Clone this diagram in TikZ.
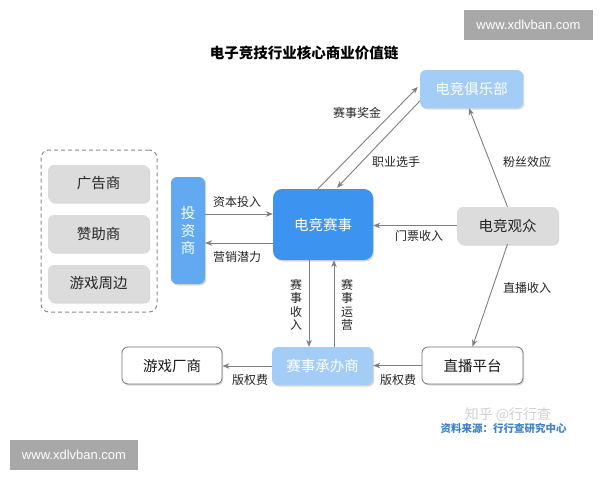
\documentclass[tikz,border=0pt]{standalone}
\usepackage{fontspec}
\setmainfont{Noto Sans CJK SC}
\newfontfamily\wmfont{Liberation Sans}
\usetikzlibrary{shadows,arrows.meta,calc}
\definecolor{evblue}{HTML}{3D93F0}
\definecolor{invblue}{HTML}{62A9F1}
\definecolor{ltblue}{HTML}{A3CDF6}
\definecolor{boxgray}{HTML}{DCDCDC}
\definecolor{arrgray}{HTML}{7F7F7F}
\definecolor{wmgray}{HTML}{A8A8A8}
\definecolor{srcblue}{HTML}{3F82C8}
\begin{document}
\begin{tikzpicture}[x=1pt,y=-1pt,
 box/.style={rounded corners=6pt, inner sep=0pt, font=\fontsize{14.5}{16}\selectfont,
   drop shadow={shadow xshift=1.2pt,shadow yshift=-1.5pt,opacity=0.3}},
 graybox/.style={box, fill=boxgray, text=black!85},
 whitebox/.style={box, fill=white, draw=black!55, line width=0.8pt, text=black!90},
 bluebox/.style={box, fill=ltblue, text=white},
 dashbox/.style={draw=black!45, dashed, dash pattern=on 4pt off 3pt, rounded corners=8pt, line width=1pt, inner sep=0pt},
 arr/.style={draw=arrgray, line width=0.9pt, -{Stealth[length=7pt,width=5.5pt]}},
 lbl/.style={font=\fontsize{12}{13}\selectfont, text=black!85, inner sep=0pt},
 vlbl/.style={lbl, align=center, font=\fontsize{12}{13.5}\selectfont},
 wm/.style={fill=wmgray, text=white, font=\wmfont\fontsize{13}{14}\selectfont, minimum width=129pt, minimum height=30pt, inner sep=0pt}
]
\fill[white] (0,0) rectangle (600,480);
\useasboundingbox (0,0) rectangle (600,480);

% title
\node[font=\bfseries\fontsize{14.5}{16}\selectfont] (title) at (304,53) {电子竞技行业核心商业价值链};

% nodes
\node[bluebox, minimum width=103pt, minimum height=38pt] (club) at (471.5,89) {电竞俱乐部};
\node[dashbox, minimum width=116pt, minimum height=162pt] (grp) at (99,231) {};
\node[graybox, minimum width=101pt, minimum height=37pt] (ad) at (98.5,183.5) {广告商};
\node[graybox, minimum width=101pt, minimum height=37pt] (spon) at (98.5,233.5) {赞助商};
\node[graybox, minimum width=101pt, minimum height=37pt] (merch) at (98.5,283.5) {游戏周边};
\node[box, fill=invblue, text=white, minimum width=34pt, minimum height=107pt, align=center,
      font=\fontsize{14.5}{17.5}\selectfont] (inv) at (188,230.5) {投\\资\\商};
\node[box, fill=evblue, text=white, minimum width=100pt, minimum height=71pt, rounded corners=9pt] (ev) at (323,224.5) {电竞赛事};
\node[graybox, minimum width=101pt, minimum height=37pt] (aud) at (507.5,225.5) {电竞观众};
\node[whitebox, minimum width=100pt, minimum height=37pt] (maker) at (172,365.5) {游戏厂商};
\node[bluebox, minimum width=101pt, minimum height=38pt] (org) at (322.5,366) {赛事承办商};
\node[whitebox, minimum width=101pt, minimum height=37pt] (plat) at (472.5,365.5) {直播平台};

% connectors
\coordinate (a1) at ([yshift=16.5pt]inv.east);
\draw[arr] (a1) -- (a1 -| ev.west);
\coordinate (a2) at ([yshift=-18.5pt]ev.west);
\draw[arr] (a2) -- (a2 -| inv.east);
\draw[arr] (aud.west) -- (aud.west -| ev.east);
\coordinate (b1) at ([xshift=-5pt]ev.north);
\coordinate (b2) at ([xshift=-2pt,yshift=2pt]club.west);
\draw[arr] (b1) -- (b2);
\coordinate (c1) at ([yshift=-12pt]club.west);
\coordinate (c2) at ([xshift=14pt,yshift=1pt]ev.north);
\draw[arr] (c1) -- (c2);
\coordinate (d1) at ([xshift=-2.5pt]club.south);
\draw[arr] (aud.north) -- (d1);
\draw[arr] (aud.south) -- (plat.north);
\coordinate (e1) at ([xshift=-14pt]ev.south);
\draw[arr] (e1) -- (e1 |- org.north);
\coordinate (e2) at ([xshift=11.5pt]org.north);
\draw[arr] (e2) -- (e2 |- ev.south);
\draw[arr] (org.west) -- (org.west -| maker.east);
\draw[arr] (plat.west) -- (plat.west -| org.east);

% labels
\node[lbl] (l1) at (237,202) {资本投入};
\node[lbl] (l2) at (237,257) {营销潜力};
\node[lbl] (l3) at (357,113) {赛事奖金};
\node[lbl] (l4) at (396,162) {职业选手};
\node[lbl] (l5) at (527,162) {粉丝效应};
\node[lbl] (l6) at (419,236) {门票收入};
\node[lbl] (l7) at (527,288) {直播收入};
\node[vlbl] (l8) at (296,305) {赛\\事\\收\\入};
\node[vlbl] (l9) at (347,305) {赛\\事\\运\\营};
\node[lbl] (l10) at (250,380) {版权费};
\node[lbl] (l11) at (398,380) {版权费};

% sources and watermarks
\node[font=\fontsize{14}{15}\selectfont, text=black!18] (zh) at (508,415) {知乎 @行行查};
\node[font=\bfseries\fontsize{10.5}{12}\selectfont, text=srcblue] (src) at (503.5,428) {资料来源：行行查研究中心};
\node[wm] (wm1) at (528.5,25) {www.xdlvban.com};
\node[wm, minimum width=128pt] (wm2) at (74,455) {www.xdlvban.com};
\end{tikzpicture}
\end{document}
